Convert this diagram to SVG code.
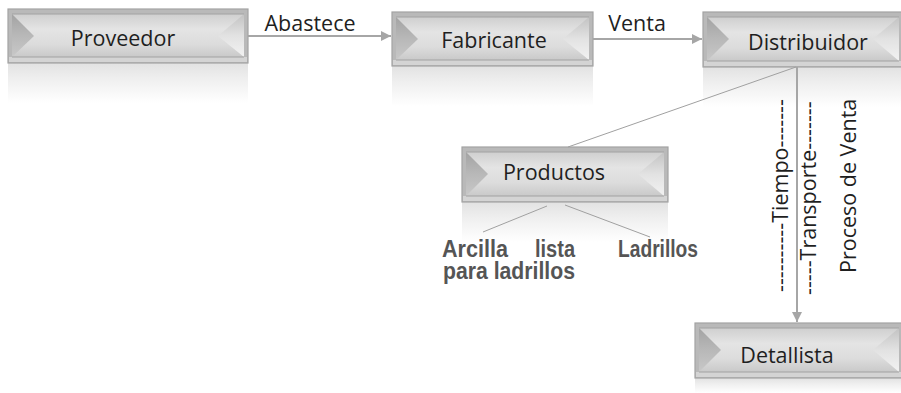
<svg xmlns="http://www.w3.org/2000/svg" width="901" height="393" viewBox="0 0 901 393">
<defs>
  <linearGradient id="gCenter" x1="0" y1="0" x2="0" y2="1">
    <stop offset="0" stop-color="#cfcfcf"/>
    <stop offset="0.35" stop-color="#e4e4e4"/>
    <stop offset="0.7" stop-color="#dcdcdc"/>
    <stop offset="1" stop-color="#c9c9c9"/>
  </linearGradient>
  <linearGradient id="gLeft" x1="0" y1="0" x2="0" y2="1">
    <stop offset="0" stop-color="#a3a3a3"/>
    <stop offset="0.5" stop-color="#b8b8b8"/>
    <stop offset="1" stop-color="#c8c8c8"/>
  </linearGradient>
  <linearGradient id="gRight" x1="0" y1="0" x2="0" y2="1">
    <stop offset="0" stop-color="#c2c2c2"/>
    <stop offset="0.5" stop-color="#e2e2e2"/>
    <stop offset="1" stop-color="#f2f2f2"/>
  </linearGradient>
  <linearGradient id="gRefl" x1="0" y1="0" x2="0" y2="1">
    <stop offset="0" stop-color="#e2e2e2"/>
    <stop offset="0.4" stop-color="#efefef"/>
    <stop offset="1" stop-color="#ffffff"/>
  </linearGradient>
  <marker id="arr" viewBox="0 0 10 10" refX="10" refY="5" markerWidth="10" markerHeight="10" markerUnits="userSpaceOnUse" orient="auto">
    <path d="M0,0 L10,5 L0,10 z" fill="#a6a6a6"/>
  </marker>
  <style>
    .frame { fill: #b9b9b9; stroke: #a3a3a3; stroke-width: 1.2; }
    .center { fill: url(#gCenter); }
    .lb { fill: url(#gLeft); }
    .rb { fill: url(#gRight); }
    .band { fill: #d4d4d4; }
    .edge { stroke: #a2a2a2; stroke-width: 1; fill: none; }
    .refl { fill: url(#gRefl); }
    .lbl { font-family: "Open Sans", "DejaVu Sans", sans-serif; font-size: 21.5px; fill: #1f1f1f; }
    .cap { font-family: "Open Sans", "DejaVu Sans", sans-serif; font-size: 21.5px; fill: #1f1f1f; }
    .bold { font-family: "Liberation Sans", Arial, sans-serif; font-weight: bold; font-size: 23px; fill: #555555; }
    .conn { stroke: #a6a6a6; stroke-width: 2; fill: none; }
    .thin { stroke: #a0a0a0; stroke-width: 1; fill: none; }
  </style>
</defs>

<g id="proveedor">
  <rect class="refl" x="8" y="63" width="240" height="40"/>
  <rect class="frame" x="8" y="9" width="240" height="54"/>
  <rect class="center" x="12" y="14" width="232" height="43"/>
  <polygon class="lb" points="12,14 34,36 12,57"/>
  <polygon class="rb" points="244,14 218,36 244,57"/>
  <rect class="band" x="9" y="57" width="238" height="5"/>
  <line class="edge" x1="12" y1="14" x2="244" y2="14"/>
  <line class="edge" x1="12" y1="57" x2="244" y2="57"/>
  <text class="lbl" x="123" y="46" text-anchor="middle">Proveedor</text>
</g>

<g id="fabricante">
  <rect class="refl" x="392" y="66" width="201" height="40"/>
  <rect class="frame" x="392" y="12" width="201" height="54"/>
  <rect class="center" x="396" y="17" width="193" height="43"/>
  <polygon class="lb" points="396,17 418,39 396,60"/>
  <polygon class="rb" points="589,17 563,39 589,60"/>
  <rect class="band" x="393" y="60" width="199" height="5"/>
  <line class="edge" x1="396" y1="17" x2="589" y2="17"/>
  <line class="edge" x1="396" y1="60" x2="589" y2="60"/>
  <text class="lbl" x="494" y="48" text-anchor="middle">Fabricante</text>
</g>

<g id="distribuidor">
  <rect class="refl" x="703" y="67" width="200" height="40"/>
  <rect class="frame" x="703" y="12" width="200" height="55"/>
  <rect class="center" x="707" y="17" width="192" height="44"/>
  <polygon class="lb" points="707,17 729,39 707,61"/>
  <polygon class="rb" points="899,17 873,39 899,61"/>
  <rect class="band" x="704" y="61" width="198" height="5"/>
  <line class="edge" x1="707" y1="17" x2="899" y2="17"/>
  <line class="edge" x1="707" y1="61" x2="899" y2="61"/>
  <text class="lbl" x="808" y="50" text-anchor="middle">Distribuidor</text>
</g>

<g id="productos">
  <rect class="refl" x="462" y="202" width="206" height="40"/>
  <rect class="frame" x="462" y="147" width="206" height="55"/>
  <rect class="center" x="466" y="152" width="198" height="44"/>
  <polygon class="lb" points="466,152 488,174 466,196"/>
  <polygon class="rb" points="664,152 638,174 664,196"/>
  <rect class="band" x="463" y="196" width="204" height="5"/>
  <line class="edge" x1="466" y1="152" x2="664" y2="152"/>
  <line class="edge" x1="466" y1="196" x2="664" y2="196"/>
  <text class="lbl" x="554" y="180" text-anchor="middle">Productos</text>
</g>

<g id="detallista">
  <rect class="refl" x="695" y="378" width="208" height="15"/>
  <rect class="frame" x="695" y="323" width="208" height="55"/>
  <rect class="center" x="699" y="328" width="200" height="44"/>
  <polygon class="lb" points="699,328 721,350 699,372"/>
  <polygon class="rb" points="899,328 873,350 899,372"/>
  <rect class="band" x="696" y="372" width="206" height="5"/>
  <line class="edge" x1="699" y1="328" x2="899" y2="328"/>
  <line class="edge" x1="699" y1="372" x2="899" y2="372"/>
  <text class="lbl" x="787" y="363" text-anchor="middle">Detallista</text>
</g>

<g id="connectors">
  <line class="conn" x1="248" y1="36" x2="391" y2="36" marker-end="url(#arr)"/>
  <line class="conn" x1="593" y1="39" x2="702" y2="39" marker-end="url(#arr)"/>
  <line class="conn" x1="797" y1="67" x2="797" y2="322" marker-end="url(#arr)"/>
  <line class="thin" x1="796" y1="67" x2="568" y2="147"/>
  <line class="thin" x1="547" y1="206" x2="483" y2="232"/>
  <line class="thin" x1="565" y1="205" x2="650" y2="237"/>
</g>

<g id="labels">
  <text class="cap" x="310" y="31" text-anchor="middle">Abastece</text>
  <text class="cap" x="637" y="31" text-anchor="middle">Venta</text>
  <text class="cap" transform="translate(788,292) rotate(-90)">----------Tiempo-------</text>
  <text class="cap" transform="translate(816,295) rotate(-90)">-----Transporte-------</text>
  <text class="cap" transform="translate(856,273) rotate(-90)">Proceso de Venta</text>
  <text class="bold" x="442" y="257" textLength="66" lengthAdjust="spacingAndGlyphs">Arcilla</text>
  <text class="bold" x="535" y="257" textLength="40" lengthAdjust="spacingAndGlyphs">lista</text>
  <text class="bold" x="443" y="279" textLength="132" lengthAdjust="spacingAndGlyphs">para ladrillos</text>
  <text class="bold" x="618" y="257" textLength="80" lengthAdjust="spacingAndGlyphs">Ladrillos</text>
</g>
</svg>
